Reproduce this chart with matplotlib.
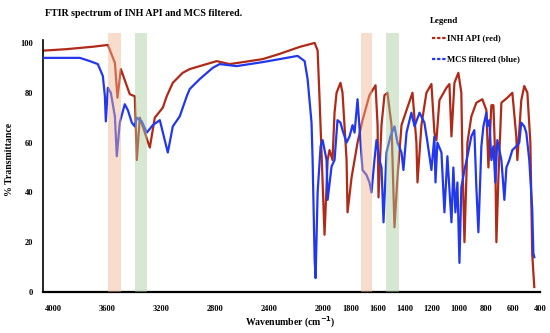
import matplotlib
matplotlib.use('Agg')
import matplotlib.pyplot as plt
from matplotlib.lines import Line2D

plt.rcParams['font.family'] = ['Liberation Serif', 'DejaVu Serif']
plt.rcParams['font.weight'] = 'bold'

# INH API (red) spectrum, wavenumber / % transmittance
red_wn = [4074, 3900, 3700, 3594, 3542, 3523, 3498, 3432, 3395, 3380,
          3358, 3284, 3247, 3188, 3159, 3114, 3041, 2989, 2790, 2694,
          2450, 2325, 2177, 2066, 2044, 2030, 2011, 1993, 1970, 1956,
          1934, 1919, 1904, 1875, 1860, 1830, 1823, 1793, 1749, 1712,
          1661, 1616, 1601, 1594, 1572, 1550, 1528, 1498, 1476, 1454,
          1424, 1387, 1343, 1314, 1306, 1277, 1240, 1203, 1181, 1166,
          1144, 1092, 1070, 1055, 1033, 1004, 982, 974, 959, 937,
          908, 871, 827, 797, 782, 760, 745, 731, 723, 708,
          686, 642, 605, 576, 568, 539, 517, 494, 472, 458,
          443]
red_t = [96.9, 97.5, 98.5, 99.2, 92, 78, 89.5, 79.4, 78.6, 53,
         70, 58, 70, 74, 78.6, 84, 88, 89.5, 92.7, 91.5,
         93.5, 95.6, 98.4, 100, 97, 78, 50, 23, 53, 57,
         53, 72, 80, 84, 80, 53, 32, 46, 60, 69,
         79, 83, 67, 38, 67, 79, 80, 67, 26, 46,
         67, 73, 80, 60, 44, 67, 80, 83.5, 64, 61,
         77, 82, 83.5, 62.5, 84, 88, 80, 53, 20, 60,
         70.5, 76, 77.4, 73, 50, 75, 75, 53, 20, 46,
         76, 78, 80, 62.5, 53, 77, 82.7, 80, 60, 15,
         2]

# MCS filtered (blue) spectrum
blue_wn = [4074, 3801, 3727, 3668, 3631, 3616, 3609, 3594, 3572, 3542,
           3528, 3506, 3469, 3446, 3417, 3395, 3380, 3343, 3306, 3262,
           3210, 3151, 3114, 3063, 3011, 2989, 2915, 2819, 2768, 2642,
           2450, 2325, 2192, 2140, 2118, 2089, 2081, 2066, 2059, 2044,
           2022, 2007, 1978, 1970, 1941, 1919, 1897, 1875, 1860, 1830,
           1808, 1786, 1771, 1749, 1727, 1712, 1683, 1661, 1646, 1624,
           1609, 1587, 1572, 1557, 1535, 1506, 1476, 1454, 1424, 1410,
           1387, 1351, 1328, 1291, 1255, 1232, 1203, 1181, 1173, 1159,
           1129, 1107, 1085, 1055, 1041, 1026, 1011, 996, 982, 959,
           937, 908, 886, 871, 856, 834, 819, 797, 790, 775,
           760, 745, 731, 716, 686, 664, 649, 627, 605, 576,
           554, 539, 517, 502, 480, 458, 450, 443]
blue_t = [94, 94, 92.7, 91.5, 86.7, 78.6, 68.5, 82, 80, 70.5,
          54.5, 68, 75.4, 73, 68, 66.5, 70, 68.5, 64, 67,
          69, 56, 66.5, 70.5, 78.6, 81.5, 85.5, 90, 91.5, 90.7,
          92.3, 93.5, 94.8, 92.7, 85.5, 68, 53, 13, 5.6, 40,
          58.5, 61, 53, 37, 50.4, 53, 69, 68, 65, 60,
          62.5, 67, 64, 77.4, 60, 49, 47, 44, 40, 53,
          61, 53, 50, 28, 56, 62.5, 66.5, 60, 56, 49,
          64, 72, 66.5, 72, 68, 60, 49, 62.5, 44, 60,
          56, 32, 54.5, 28, 50, 32, 44, 11.7, 42, 49,
          54.5, 62.5, 65, 42, 24, 58.5, 66.5, 72, 66.5, 69,
          53, 58.5, 44, 61, 53, 37, 50, 53, 57, 58.5,
          60, 68, 66.5, 64, 53, 33, 15.7, 14]

# highlighted regions
orange_bands = [(3590, 3500), (1720, 1640)]
green_bands = [(3395, 3306), (1542, 1440)]

xticks = [4000, 3600, 3200, 2800, 2400, 2000, 1800, 1600, 1400, 1200, 1000, 800, 600, 400]
yticks = [0, 20, 40, 60, 80, 100]

fig = plt.figure(figsize=(5.5, 3.33), dpi=100)
ax = fig.add_axes([0.078, 0.123, 0.904, 0.778])

ax.plot(red_wn, red_t, color='#b02a18', lw=1.6, zorder=2)
ax.plot(blue_wn, blue_t, color='#2238ee', lw=1.6, zorder=3)

for a, b in orange_bands:
    ax.axvspan(b, a, color='#f2b48e', alpha=0.45, lw=0, zorder=4)
for a, b in green_bands:
    ax.axvspan(b, a, color='#a8cc9c', alpha=0.45, lw=0, zorder=4)

ax.set_xlim(4074, 400)
ax.set_ylim(0, 104)
ax.set_xticks(xticks)
ax.set_yticks(yticks)
ax.tick_params(length=0, labelsize=6)
ax.tick_params(axis='x', pad=9)
ax.tick_params(axis='y', pad=7)
for lab in ax.get_xticklabels() + ax.get_yticklabels():
    lab.set_fontweight('bold')
for s in ['top', 'right']:
    ax.spines[s].set_visible(False)
ax.spines['left'].set_linewidth(1.2)
ax.spines['bottom'].set_linewidth(1.6)
ax.spines['left'].set_bounds(0, 101)

fig.text(0.082, 0.96, 'FTIR spectrum of INH API and MCS filtered.', fontsize=7.2,
         fontweight='bold', ha='left', va='center')
fig.text(0.018, 0.52, '% Transmittance', fontsize=7, fontweight='bold',
         rotation=90, ha='center', va='center')
fig.text(0.528, 0.033, 'Wavenumber (cm$^{-1}$)', fontsize=7, fontweight='bold',
         ha='center', va='center')

# legend
fig.text(0.782, 0.938, 'Legend', fontsize=6.5, fontweight='bold', ha='left', va='center')
fig.add_artist(Line2D([0.785, 0.812], [0.886, 0.886], transform=fig.transFigure,
                      color='#b02a18', lw=1.6, ls=(0, (1.5, 0.8))))
fig.text(0.812, 0.886, 'INH API (red)', fontsize=6.3, fontweight='bold', ha='left', va='center')
fig.add_artist(Line2D([0.785, 0.812], [0.823, 0.823], transform=fig.transFigure,
                      color='#2238ee', lw=1.6, ls=(0, (1.5, 0.8))))
fig.text(0.812, 0.823, 'MCS filtered (blue)', fontsize=6.3, fontweight='bold', ha='left', va='center')

fig.savefig('out.png', dpi=100)
